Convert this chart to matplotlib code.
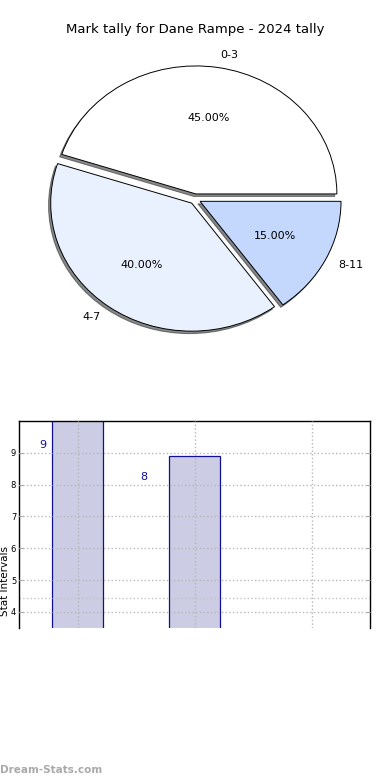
import matplotlib
matplotlib.use("Agg")
import matplotlib.pyplot as plt

title = "Mark tally for Dane Rampe - 2024 tally"
pie_labels = ["0-3", "4-7", "8-11"]
pie_values = [45, 40, 15]
pie_colors = ["#ffffff", "#eaf1fe", "#c4d8fe"]

bar_x = [0, 1]
bar_values = [10.5, 8.9]
bar_texts = ["9", "8"]
bar_text_x = [-0.30, 0.57]
bar_text_y = [9.25, 8.25]
ref_line = 4.45

fig = plt.figure(figsize=(3.9, 7.8), dpi=100)

# pie
W, H = 390, 780
cx, cy = 195, 199
rx, ry = 141, 128
lim = 1.2
axp = fig.add_axes([(cx - lim * rx) / W, (H - cy - lim * ry) / H,
                    2 * lim * rx / W, 2 * lim * ry / H])
axp.pie(pie_values, labels=pie_labels, colors=pie_colors, autopct="%.2f%%",
        explode=[0.04, 0.04, 0.04],
        shadow=dict(ox=-0.011, oy=-0.014, shade=0.85, alpha=0.55),
        startangle=0,
        wedgeprops=dict(edgecolor="black", linewidth=0.7),
        textprops=dict(fontsize=8))
axp.set_xlim(-lim, lim)
axp.set_ylim(-lim, lim)
axp.set_aspect("auto")
axp.axis("off")
fig.text(0.5, 1 - 30 / H, title, ha="center", va="center", fontsize=9.5)

# bars
axb = fig.add_axes([19 / W, (H - 627.5) / H, 351 / W, 206.5 / H])
axb.bar(bar_x, bar_values, width=0.44, color="#cccce4",
        edgecolor="#101090", linewidth=0.9)
for x, y, t in zip(bar_text_x, bar_text_y, bar_texts):
    axb.text(x, y, t, color="#101090", fontsize=8, ha="center", va="center")
axb.axhline(ref_line, color="#c4c4c4", linestyle=":", linewidth=1)
axb.set_xlim(-0.5, 2.5)
axb.set_ylim(3.51, 10)
axb.set_xticks([0, 1, 2])
axb.set_xticklabels([])
axb.set_yticks([4, 5, 6, 7, 8, 9])
axb.tick_params(axis="y", labelsize=6, color="#aaaaaa", length=3, right=True,
                direction="in", pad=2)
axb.tick_params(axis="x", length=0)
axb.grid(True, color="#b8b8b8", linestyle=":", linewidth=1)
axb.set_axisbelow(False)
axb.spines["bottom"].set_visible(False)
for s in ["top", "left", "right"]:
    axb.spines[s].set_linewidth(1)
fig.text(0.5 / W, 1 - 581 / H, "Stat Intervals", rotation=90, ha="left",
         va="center", fontsize=7.5)

fig.text(0, 1 - 770 / H, "Dream-Stats.com", color="#a0a0a0", fontsize=7.5,
         ha="left", va="center", fontweight="bold", alpha=0.9)

fig.savefig("out.png", dpi=100)
